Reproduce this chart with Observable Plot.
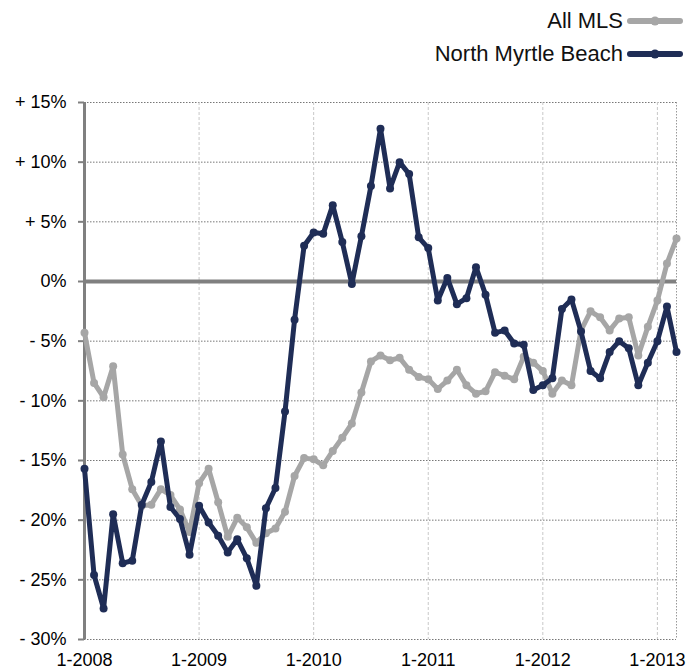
<!DOCTYPE html>
<html>
<head>
<meta charset="utf-8">
<script src="https://cdn.jsdelivr.net/npm/d3@7"></script>
<script src="https://cdn.jsdelivr.net/npm/@observablehq/plot@0.6"></script>
<style>
  html, body { margin: 0; padding: 0; background: #fff; }
  #wrap { position: relative; width: 699px; height: 670px; overflow: hidden; font-family: "Liberation Sans", Arial, Helvetica, sans-serif; }
  .leg { position: absolute; right: 76px; font-size: 22px; line-height: 26px; color: #111; white-space: nowrap; }
  .sw { position: absolute; left: 626px; }
</style>
</head>
<body>
<div id="wrap"></div>
<script>
const months = [
  "1-2008","2-2008","3-2008","4-2008","5-2008","6-2008","7-2008","8-2008","9-2008","10-2008","11-2008","12-2008",
  "1-2009","2-2009","3-2009","4-2009","5-2009","6-2009","7-2009","8-2009","9-2009","10-2009","11-2009","12-2009",
  "1-2010","2-2010","3-2010","4-2010","5-2010","6-2010","7-2010","8-2010","9-2010","10-2010","11-2010","12-2010",
  "1-2011","2-2011","3-2011","4-2011","5-2011","6-2011","7-2011","8-2011","9-2011","10-2011","11-2011","12-2011",
  "1-2012","2-2012","3-2012","4-2012","5-2012","6-2012","7-2012","8-2012","9-2012","10-2012","11-2012","12-2012",
  "1-2013","2-2013","3-2013"
];
const allMLS = [
  -4.3, -8.5, -9.7, -7.1, -14.5, -17.4, -18.8, -18.7, -17.4, -17.9, -19.1, -21.0,
  -16.9, -15.7, -18.5, -21.4, -19.8, -20.6, -21.9, -21.1, -20.7, -19.3, -16.3, -14.8,
  -14.9, -15.4, -14.2, -13.1, -11.9, -9.3, -6.7, -6.2, -6.6, -6.4, -7.4, -8.0,
  -8.2, -9.0, -8.3, -7.4, -8.7, -9.4, -9.2, -7.6, -7.9, -8.2, -6.3, -6.8,
  -7.5, -9.4, -8.3, -8.7, -4.1, -2.5, -3.0, -4.1, -3.1, -3.0, -6.2, -3.8,
  -1.6, 1.5, 3.6
];
const northMyrtleBeach = [
  -15.7, -24.6, -27.4, -19.5, -23.6, -23.4, -18.7, -16.8, -13.4, -18.9, -19.9, -22.9,
  -18.8, -20.2, -21.3, -22.7, -21.6, -23.2, -25.5, -19.0, -17.3, -10.9, -3.2, 3.0,
  4.1, 4.0, 6.4, 3.3, -0.2, 3.8, 8.0, 12.8, 7.8, 10.0, 9.0, 3.7,
  2.8, -1.6, 0.3, -1.9, -1.4, 1.2, -1.1, -4.3, -4.1, -5.2, -5.3, -9.1,
  -8.7, -8.1, -2.3, -1.5, -4.2, -7.5, -8.1, -5.9, -5.0, -5.6, -8.7, -6.8,
  -5.0, -2.1, -5.9
];
const seriesNames = ["All MLS", "North Myrtle Beach"];
const seriesColors = ["#a6a6a6", "#1f2d56"];
const xTicks = ["1-2008","1-2009","1-2010","1-2011","1-2012","1-2013"];
const yTicks = [15, 10, 5, 0, -5, -10, -15, -20, -25, -30];

const grayRows = months.map((m, i) => ({month: m, value: allMLS[i]}));
const navyRows = months.map((m, i) => ({month: m, value: northMyrtleBeach[i]}));
const fmt = v => v > 0 ? `+ ${v}%` : v < 0 ? `- ${-v}%` : "0%";

const chart = Plot.plot({
  width: 699,
  height: 670,
  marginTop: 102,
  marginBottom: 31,
  marginLeft: 84,
  marginRight: 23,
  style: {fontFamily: "'Liberation Sans', Arial, Helvetica, sans-serif", fontSize: "18px", background: "transparent", color: "#000"},
  x: {type: "point", domain: months, padding: 0},
  y: {domain: [-30, 15]},
  marks: [
    Plot.gridY(yTicks, {stroke: "#777", strokeOpacity: 1, strokeDasharray: "1.5,1.5"}),
    Plot.gridX(xTicks, {stroke: "#c8c8c8", strokeOpacity: 1, strokeDasharray: "3,2"}),
    Plot.ruleX([months[months.length - 1]], {stroke: "#999", strokeDasharray: "1.5,1.5"}),
    Plot.ruleY([0], {stroke: "#808080", strokeWidth: 4}),
    Plot.axisY(yTicks, {tickFormat: fmt, tickSize: 6, tickPadding: 12, stroke: "#808080", strokeWidth: 2, fill: "#000", fontSize: 18, label: null}),
    Plot.axisX(xTicks, {tickSize: 0, tickPadding: 14, fill: "#000", fontSize: 18, label: null}),
    Plot.ruleX([months[0]], {stroke: "#808080", strokeWidth: 3}),
    Plot.line(grayRows, {x: "month", y: "value", stroke: seriesColors[0], strokeWidth: 5, strokeLinejoin: "round"}),
    Plot.dot(grayRows, {x: "month", y: "value", fill: seriesColors[0], r: 4}),
    Plot.line(navyRows, {x: "month", y: "value", stroke: seriesColors[1], strokeWidth: 5, strokeLinejoin: "round"}),
    Plot.dot(navyRows, {x: "month", y: "value", fill: seriesColors[1], r: 4})
  ]
});
chart.style.position = "absolute";
chart.style.left = "0px";
chart.style.top = "0px";
const wrap = document.getElementById("wrap");
wrap.appendChild(chart);

// legend
const legY = [21, 54];
seriesNames.forEach((name, i) => {
  const t = document.createElement("div");
  t.className = "leg";
  t.style.top = (legY[i] - 13) + "px";
  t.textContent = name;
  wrap.appendChild(t);
  const ns = "http://www.w3.org/2000/svg";
  const s = document.createElementNS(ns, "svg");
  s.setAttribute("class", "sw");
  s.setAttribute("width", "60");
  s.setAttribute("height", "14");
  s.style.top = (legY[i] - 7) + "px";
  const l = document.createElementNS(ns, "line");
  l.setAttribute("x1", "4"); l.setAttribute("x2", "54");
  l.setAttribute("y1", "7"); l.setAttribute("y2", "7");
  l.setAttribute("stroke", seriesColors[i]);
  l.setAttribute("stroke-width", "6");
  l.setAttribute("stroke-linecap", "round");
  s.appendChild(l);
  const c = document.createElementNS(ns, "circle");
  c.setAttribute("cx", "29"); c.setAttribute("cy", "7"); c.setAttribute("r", "4.5");
  c.setAttribute("fill", seriesColors[i]);
  s.appendChild(c);
  wrap.appendChild(s);
});
</script>
</body>
</html>
